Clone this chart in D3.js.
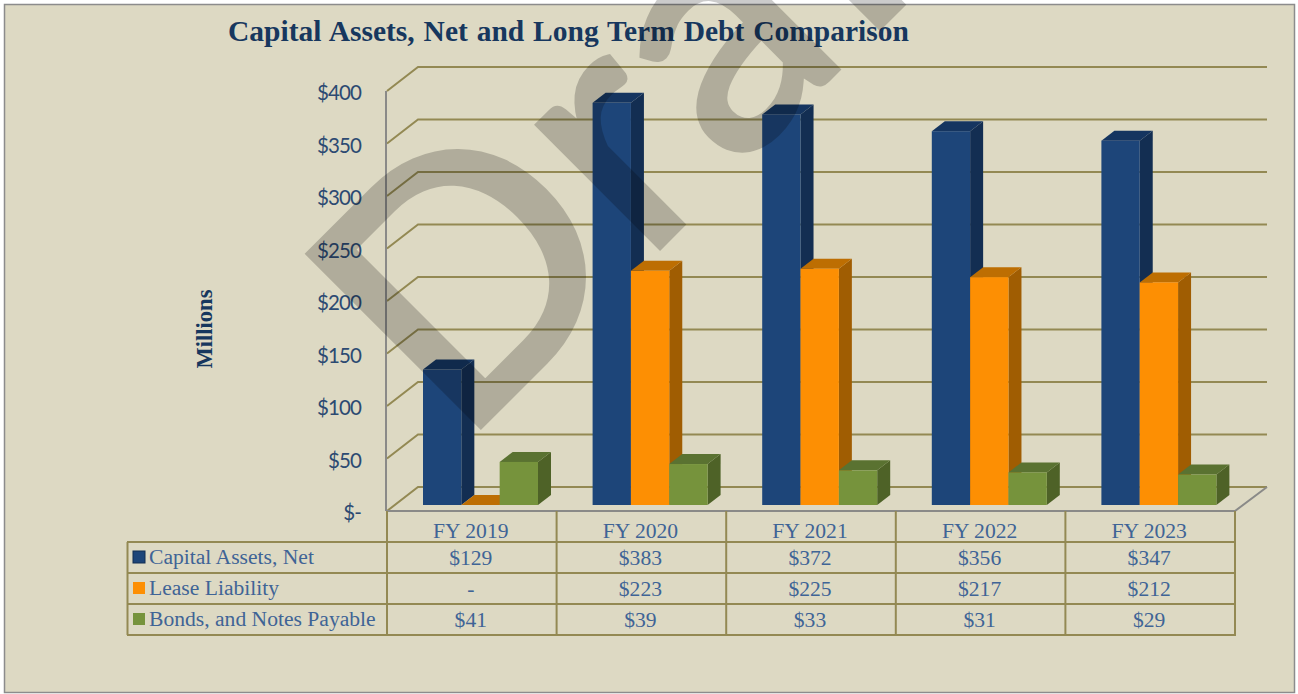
<!DOCTYPE html>
<html>
<head>
<meta charset="utf-8">
<script src="https://cdn.jsdelivr.net/npm/d3@7"></script>
<style>
  html, body { margin: 0; padding: 0; background: #fff; overflow: hidden; }
  svg { display: block; }
</style>
</head>
<body>
<div class="chart"></div>
<script>
const categories = ["FY 2019", "FY 2020", "FY 2021", "FY 2022", "FY 2023"];
const seriesNames = ["Capital Assets, Net", "Lease Liability", "Bonds, and Notes Payable"];
const capitalAssets = [129, 383, 372, 356, 347];
const leaseLiability = [0, 223, 225, 217, 212];
const bondsNotes = [41, 39, 33, 31, 29];
const yTicks = [0, 50, 100, 150, 200, 250, 300, 350, 400];
const seriesValues = [capitalAssets, leaseLiability, bondsNotes];

const faceColors = ["#1d4579", "#fd8f03", "#76933c"];
const sideColors = ["#132e52", "#a05d02", "#4e6227"];
const topColors = ["#153560", "#bd6e02", "#5a7231"];
const gridColor = "#938953";
const greyLine = "#8a8a88";
const textBlue = "#3f6496";

const width = 1298, height = 694;
const depth = { x: 31, y: 24 };
const barDepth = { x: 13, y: 10 };
const rowLines = [542, 573, 604, 635];

const svg = d3.select(".chart").append("svg")
  .attr("width", width)
  .attr("height", height);

// scales
const x = d3.scaleBand().domain(d3.range(categories.length)).range([387, 1235]);
const y = d3.scaleLinear().domain([0, 400]).range([511, 91]);
const inner = d3.scaleBand().domain(d3.range(seriesNames.length))
  .range([36, 151]);
const barBase = y(0) - 6;

function drawBackground() {
  svg.append("rect")
    .attr("x", 4.5).attr("y", 4.5)
    .attr("width", 1290).attr("height", 688)
    .attr("fill", "#ddd9c3")
    .attr("stroke", "#8c8c8c")
    .attr("stroke-width", 1.5);

  svg.append("text")
    .attr("x", 228).attr("y", 41)
    .attr("font-family", "'Liberation Serif'")
    .attr("font-weight", "bold")
    .attr("font-size", 29.5)
    .attr("word-spacing", 1.5)
    .attr("fill", "#17375e")
    .text("Capital Assets, Net and Long Term Debt Comparison");

  svg.append("text")
    .attr("transform", "translate(212,329) rotate(-90)")
    .attr("text-anchor", "middle")
    .attr("font-family", "'Liberation Serif'")
    .attr("font-weight", "bold")
    .attr("font-size", 22.5)
    .attr("fill", "#17375e")
    .text("Millions");
}

function drawWalls() {
  const right = x.range()[1];
  const left = x.range()[0];

  svg.append("g").selectAll("polyline")
    .data(yTicks)
    .join("polyline")
    .attr("fill", "none")
    .attr("stroke", gridColor)
    .attr("stroke-width", 2)
    .attr("points", d => {
      const yy = y(d);
      return `${left},${yy} ${left + depth.x},${yy - depth.y} ${right + depth.x + 1},${yy - depth.y}`;
    });

  // front edges of the box
  svg.append("line")
    .attr("x1", left - 1).attr("x2", left - 1)
    .attr("y1", y(400)).attr("y2", y(0))
    .attr("stroke", greyLine).attr("stroke-width", 2);
  svg.append("polyline")
    .attr("fill", "none")
    .attr("stroke", greyLine).attr("stroke-width", 2)
    .attr("points", `${left - 1},${y(0)} ${right},${y(0)} ${right + depth.x + 1},${y(0) - depth.y}`);

  svg.append("g").selectAll("text")
    .data(yTicks)
    .join("text")
    .attr("x", 361)
    .attr("y", d => y(d) + 2)
    .attr("dy", "0.35em")
    .attr("text-anchor", "end")
    .attr("font-family", "Lato")
    .attr("font-size", 20.5)
    .attr("letter-spacing", -0.9)
    .attr("fill", "#2c4a72")
    .text(d => d === 0 ? "$-" : `$${d}`);
}

function drawBars() {
  seriesValues.forEach((values, s) => {
    const g = svg.append("g").attr("class", "series");
    values.forEach((v, i) => {
      const x0 = x(i) + inner(s);
      const x1 = x0 + inner.bandwidth();
      const top = barBase - (y(0) - y(v));
      const dx = barDepth.x, dy = barDepth.y;

      g.append("polygon")
        .attr("fill", sideColors[s])
        .attr("points", `${x1},${top} ${x1 + dx},${top - dy} ${x1 + dx},${barBase - dy} ${x1},${barBase}`);
      g.append("polygon")
        .attr("fill", topColors[s])
        .attr("points", `${x0},${top} ${x0 + dx},${top - dy} ${x1 + dx},${top - dy} ${x1},${top}`);
      g.append("rect")
        .attr("x", x0).attr("y", top)
        .attr("width", inner.bandwidth())
        .attr("height", barBase - top)
        .attr("fill", faceColors[s]);
    });
  });
}

function drawTable() {
  const right = x.range()[1];
  const t = svg.append("g").attr("class", "data-table");

  rowLines.forEach(r => {
    t.append("line")
      .attr("x1", 127).attr("x2", right + 1)
      .attr("y1", r).attr("y2", r)
      .attr("stroke", gridColor).attr("stroke-width", 2);
  });
  t.append("line")
    .attr("x1", 127.5).attr("x2", 127.5)
    .attr("y1", rowLines[0]).attr("y2", rowLines[3])
    .attr("stroke", gridColor).attr("stroke-width", 2);

  d3.range(categories.length + 1).forEach(i => {
    const xx = i === categories.length ? right : x(i);
    t.append("line")
      .attr("x1", xx).attr("x2", xx)
      .attr("y1", y(0)).attr("y2", rowLines[3])
      .attr("stroke", gridColor).attr("stroke-width", 2);
  });

  const cellText = (xx, yy, str, anchor) => t.append("text")
    .attr("x", xx).attr("y", yy)
    .attr("dy", "0.35em")
    .attr("text-anchor", anchor)
    .attr("font-family", "'Liberation Serif'")
    .attr("font-size", 21.6)
    .attr("fill", textBlue)
    .text(str);

  categories.forEach((c, i) => {
    cellText(x(i) + x.bandwidth() / 2 - 1, 530, c, "middle");
  });

  seriesNames.forEach((name, s) => {
    const mid = (rowLines[s] + rowLines[s + 1]) / 2;
    t.append("rect")
      .attr("x", 133).attr("y", mid - 6.5)
      .attr("width", 12).attr("height", 12)
      .attr("fill", faceColors[s])
      .attr("stroke", s === 0 ? sideColors[0] : "none");
    cellText(149, mid - 1, name, "start");
    seriesValues[s].forEach((v, i) => {
      cellText(x(i) + x.bandwidth() / 2 - 1, mid, v === 0 ? "-" : `$${v}`, "middle");
    });
  });
}

function drawWatermark() {
  svg.append("text")
    .attr("transform", "translate(459,447) rotate(-45)")
    .attr("font-family", "Lato")
    .attr("font-size", 338)
    .attr("letter-spacing", 7)
    .attr("fill", "#000")
    .attr("stroke", "#000")
    .attr("stroke-width", 7)
    .attr("stroke-linejoin", "miter")
    .attr("opacity", 0.2)
    .text("Draft");
}

drawBackground();
drawWalls();
drawBars();
drawTable();
drawWatermark();
</script>
</body>
</html>
